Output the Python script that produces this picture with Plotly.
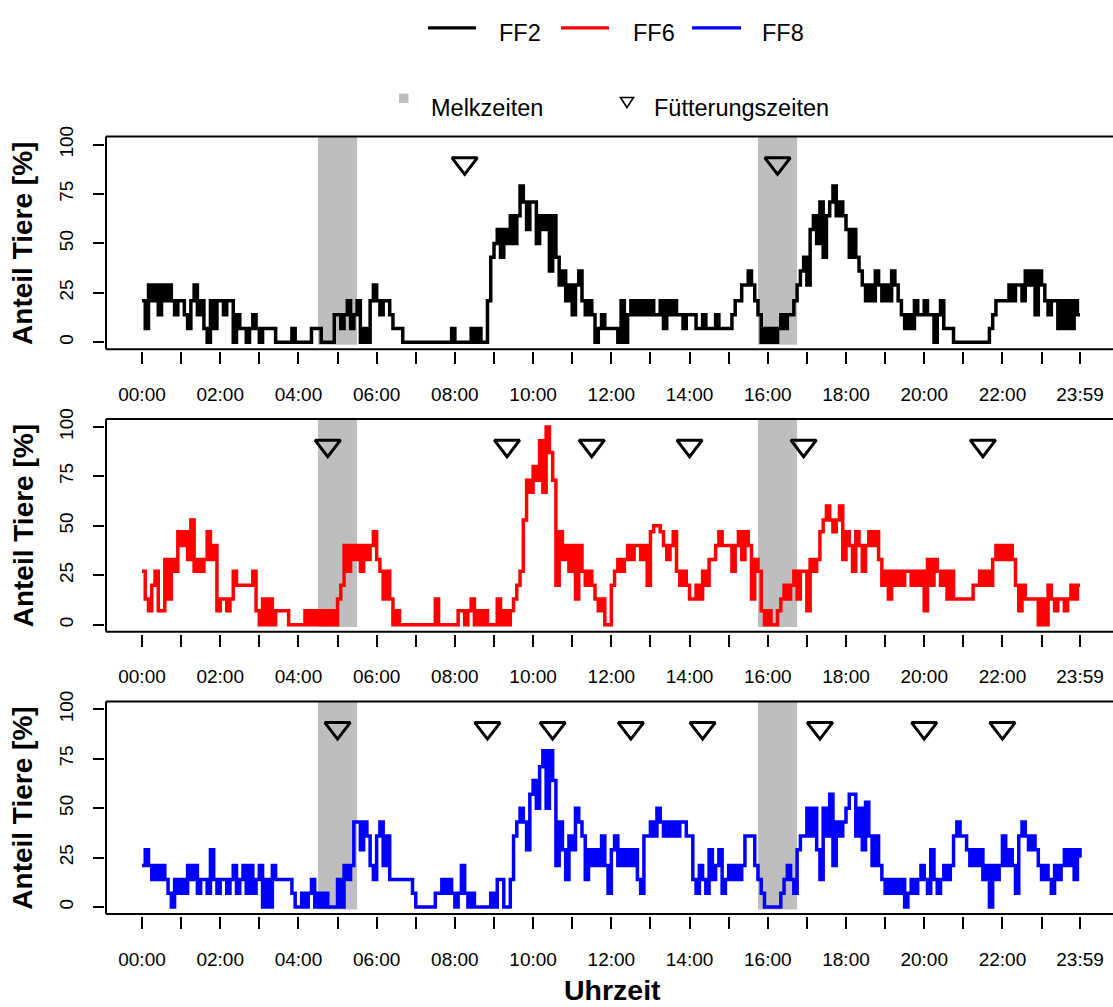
import plotly.graph_objects as go

# ---------------- data (percent of animals, 5-minute steps from 00:00) ----------------
minutes = list(range(0, 1440, 5)) + [1439]

ff2 = [
    21, 7, 29, 21, 29, 14, 29, 21, 29, 21, 14, 21,
    21, 14, 7, 21, 29, 14, 21, 7, 0, 21, 7, 21,
    21, 14, 21, 21, 0, 14, 7, 7, 0, 7, 14, 7,
    0, 7, 7, 7, 7, 0, 0, 0, 0, 0, 7, 0,
    0, 0, 0, 0, 7, 7, 7, 0, 0, 0, 0, 14,
    14, 7, 14, 21, 7, 14, 21, 0, 7, 0, 21, 29,
    21, 14, 21, 21, 14, 7, 7, 7, 0, 0, 0, 0,
    0, 0, 0, 0, 0, 0, 0, 0, 0, 0, 0, 7,
    0, 0, 0, 0, 0, 7, 0, 7, 0, 0, 21, 43,
    50, 57, 43, 57, 50, 64, 50, 64, 79, 71, 57, 71,
    71, 50, 64, 57, 64, 36, 64, 43, 29, 36, 21, 29,
    14, 29, 36, 21, 14, 21, 14, 0, 7, 14, 7, 7,
    7, 7, 0, 21, 0, 14, 21, 14, 21, 14, 21, 14,
    21, 14, 14, 21, 7, 21, 14, 21, 14, 14, 7, 14,
    14, 14, 7, 7, 14, 7, 7, 7, 14, 7, 7, 7,
    7, 14, 21, 21, 29, 29, 36, 29, 21, 14, 0, 7,
    0, 7, 0, 7, 14, 7, 14, 14, 21, 29, 36, 43,
    29, 57, 64, 50, 71, 43, 64, 71, 79, 64, 71, 64,
    57, 43, 57, 43, 36, 29, 21, 29, 21, 36, 29, 21,
    29, 21, 36, 29, 21, 14, 7, 14, 7, 21, 14, 14,
    21, 14, 14, 0, 14, 21, 7, 7, 7, 0, 0, 0,
    0, 0, 0, 0, 0, 0, 0, 0, 7, 14, 21, 21,
    21, 21, 29, 21, 29, 29, 21, 36, 29, 36, 14, 36,
    29, 21, 14, 21, 21, 7, 21, 7, 21, 7, 21, 14,
    14,
]

ff6 = [
    27, 13, 7, 20, 27, 7, 7, 33, 13, 33, 27, 47,
    40, 47, 33, 53, 27, 33, 27, 33, 47, 33, 40, 7,
    13, 13, 7, 13, 27, 20, 20, 20, 20, 20, 27, 7,
    0, 13, 0, 13, 0, 7, 7, 7, 7, 0, 0, 0,
    0, 0, 7, 0, 7, 0, 7, 0, 7, 0, 7, 0,
    13, 20, 40, 27, 40, 33, 40, 27, 40, 33, 40, 47,
    33, 27, 13, 27, 13, 0, 7, 0, 0, 0, 0, 0,
    0, 0, 0, 0, 0, 0, 13, 0, 0, 0, 0, 0,
    0, 7, 7, 0, 7, 13, 0, 7, 0, 7, 0, 0,
    0, 13, 0, 7, 0, 7, 13, 20, 27, 53, 73, 67,
    80, 73, 93, 67, 100, 87, 73, 20, 47, 33, 40, 27,
    40, 13, 40, 27, 20, 27, 20, 13, 7, 13, 0, 0,
    20, 27, 33, 27, 33, 40, 33, 40, 40, 33, 40, 20,
    47, 50, 50, 47, 40, 33, 40, 47, 27, 20, 27, 20,
    13, 13, 20, 13, 27, 20, 33, 33, 40, 47, 40, 40,
    40, 27, 40, 47, 33, 47, 40, 13, 33, 27, 7, 0,
    7, 0, 0, 7, 13, 20, 13, 20, 27, 13, 27, 27,
    7, 33, 27, 33, 47, 53, 60, 53, 47, 53, 60, 33,
    47, 40, 27, 47, 40, 27, 40, 47, 40, 47, 33, 20,
    27, 13, 27, 20, 27, 20, 27, 27, 20, 27, 20, 27,
    7, 33, 20, 33, 27, 20, 27, 13, 27, 13, 13, 13,
    13, 13, 13, 20, 20, 27, 20, 27, 20, 33, 40, 33,
    40, 33, 40, 33, 20, 7, 20, 13, 13, 13, 13, 0,
    13, 0, 20, 13, 7, 13, 13, 7, 13, 20, 13, 20,
    20,
]

ff8 = [
    21, 29, 21, 14, 21, 14, 21, 14, 7, 0, 14, 7,
    14, 7, 21, 14, 21, 7, 14, 14, 7, 29, 14, 7,
    14, 14, 7, 14, 21, 7, 14, 21, 7, 21, 7, 14,
    21, 0, 14, 0, 21, 14, 14, 14, 14, 14, 7, 0,
    0, 7, 0, 7, 14, 0, 7, 0, 7, 0, 0, 0,
    14, 0, 21, 14, 21, 43, 43, 29, 43, 36, 21, 14,
    36, 43, 21, 36, 14, 14, 14, 14, 14, 14, 14, 7,
    0, 0, 0, 0, 0, 0, 7, 7, 14, 7, 14, 7,
    0, 7, 21, 7, 0, 7, 0, 0, 0, 0, 0, 7,
    0, 14, 14, 0, 0, 14, 36, 43, 50, 43, 29, 57,
    64, 50, 71, 79, 50, 79, 64, 21, 43, 29, 14, 36,
    29, 50, 43, 36, 14, 29, 21, 29, 21, 36, 21, 7,
    29, 36, 21, 29, 21, 29, 21, 29, 14, 7, 36, 36,
    43, 36, 50, 43, 36, 43, 36, 43, 36, 43, 43, 36,
    36, 14, 7, 21, 14, 7, 29, 14, 21, 29, 7, 14,
    21, 14, 21, 14, 21, 36, 36, 36, 21, 14, 7, 0,
    0, 0, 0, 0, 7, 14, 21, 14, 7, 29, 36, 36,
    50, 36, 50, 29, 14, 50, 36, 57, 21, 43, 36, 43,
    50, 57, 57, 36, 50, 29, 53, 36, 21, 36, 21, 14,
    7, 14, 7, 14, 7, 14, 0, 7, 14, 7, 14, 21,
    14, 7, 29, 14, 7, 14, 21, 14, 21, 36, 43, 36,
    36, 29, 21, 29, 21, 29, 14, 21, 0, 21, 14, 21,
    36, 21, 29, 21, 7, 36, 43, 36, 29, 36, 29, 21,
    14, 21, 14, 7, 21, 14, 21, 29, 21, 29, 14, 29,
    25,
]

series_names = ["FF2", "FF6", "FF8"]
series_colors = ["#000000", "#FF0000", "#0000FF"]

# feeding times (minutes after midnight) per barn
feed_ff2 = [495, 975]
feed_ff6 = [285, 560, 690, 840, 1015, 1290]
feed_ff8 = [300, 530, 630, 750, 860, 1040, 1200, 1320]

# milking times (start, end) in minutes
milk_start = [270, 945]
milk_end = [330, 1005]

# x tick positions / labels
tick_vals = list(range(0, 1440, 60)) + [1439]
tick_text = ["00:00", "", "02:00", "", "04:00", "", "06:00", "", "08:00", "", "10:00", "",
             "12:00", "", "14:00", "", "16:00", "", "18:00", "", "20:00", "", "22:00", "", "23:59"]

# ---------------- layout helpers ----------------
W, H = 1113, 1007
FONT = "Liberation Sans, Arial, Helvetica, sans-serif"


def px(x):
    return x / W


def py(y):
    return 1 - y / H


panel_tops = [127, 412.5, 698]
panel_h = 215
box_left = 106

fig = go.Figure()
series = [ff2, ff6, ff8]
feeds = [feed_ff2, feed_ff6, feed_ff8]
shapes = []
annotations = []

for i in range(3):
    n = i + 1
    xa = "x" if n == 1 else f"x{n}"
    ya = "y" if n == 1 else f"y{n}"
    fig.add_trace(go.Scatter(
        x=minutes, y=series[i], mode="lines",
        line=dict(color=series_colors[i], width=3.5, shape="hv"),
        name=series_names[i], showlegend=False, xaxis=xa, yaxis=ya, hoverinfo="skip"))
    fig.add_trace(go.Scatter(
        x=feeds[i], y=[90.5] * len(feeds[i]), mode="markers",
        marker=dict(symbol="triangle-down-open", size=22, color="black",
                    line=dict(width=3, color="black")),
        showlegend=False, xaxis=xa, yaxis=ya, hoverinfo="skip"))

    top = panel_tops[i]
    bot = top + panel_h
    xkey = "xaxis" if n == 1 else f"xaxis{n}"
    ykey = "yaxis" if n == 1 else f"yaxis{n}"
    fig.update_layout(**{
        xkey: dict(domain=[px(box_left), 1.0], range=[-55.2, 1489.6], anchor="free",
                   position=py(bot + 2), showline=False, showgrid=False, zeroline=False,
                   tickmode="array", tickvals=tick_vals, ticktext=tick_text,
                   ticks="outside", ticklen=12, tickwidth=1.6, tickcolor="black",
                   tickfont=dict(family=FONT, size=19, color="black"), ticklabelstandoff=14),
        ykey: dict(domain=[py(bot), py(top)], range=[-3.5, 104], anchor="free",
                   position=px(box_left - 2.5), showline=False, showgrid=False, zeroline=False,
                   tickmode="array", tickvals=[0, 25, 50, 75, 100],
                   ticks="outside", ticklen=11, tickwidth=1.6, tickcolor="black", tickangle=-90,
                   tickfont=dict(family=FONT, size=19, color="black"), ticklabelstandoff=12),
    })
    for s, e in zip(milk_start, milk_end):
        shapes.append(dict(type="rect", xref=xa, yref=ya, x0=s, x1=e, y0=-1.2, y1=104,
                           fillcolor="#BEBEBE", line=dict(width=0), layer="below"))
    # open box: left, top, bottom (right edge lies outside the picture)
    for (x0, y0, x1, y1) in [(px(box_left), py(bot), px(box_left), py(top)),
                             (px(box_left), py(top), 1.01, py(top)),
                             (px(box_left), py(bot), 1.01, py(bot))]:
        shapes.append(dict(type="line", xref="paper", yref="paper", x0=x0, y0=y0, x1=x1, y1=y1,
                           line=dict(color="black", width=2), layer="above"))
    annotations.append(dict(text="<b>Anteil Tiere [%]</b>", x=px(23), y=py(top + panel_h / 2 + 1),
                            xref="paper", yref="paper", showarrow=False, textangle=-90,
                            xanchor="center", yanchor="middle",
                            font=dict(family=FONT, size=28, color="black")))

annotations.append(dict(text="<b>Uhrzeit</b>", x=px(612), y=py(990), xref="paper", yref="paper",
                        showarrow=False, xanchor="center", yanchor="middle",
                        font=dict(family=FONT, size=28.5, color="black")))

# ---------------- legends ----------------
leg_lines = [(428, 476, 497), (561, 609, 631), (692, 741, 760)]
for (x0, x1, tx), name, col in zip(leg_lines, series_names, series_colors):
    shapes.append(dict(type="line", xref="paper", yref="paper", x0=px(x0), x1=px(x1),
                       y0=py(17), y1=py(17), line=dict(color=col, width=3.3)))
    annotations.append(dict(text=name, x=px(tx), y=py(22), xref="paper", yref="paper",
                            showarrow=False, xanchor="left", yanchor="middle",
                            font=dict(family=FONT, size=23.5, color="black")))

shapes.append(dict(type="rect", xref="paper", yref="paper", x0=px(399), x1=px(408.5),
                   y0=py(93), y1=py(83.5), fillcolor="#BEBEBE", line=dict(width=0)))
annotations.append(dict(text="Melkzeiten", x=px(429), y=py(98), xref="paper", yref="paper",
                        showarrow=False, xanchor="left", yanchor="middle",
                        font=dict(family=FONT, size=23.5, color="black")))
tri = f"M {px(620.5)},{py(87.5)} L {px(633.5)},{py(87.5)} L {px(627)},{py(97.5)} Z"
shapes.append(dict(type="path", xref="paper", yref="paper", path=tri,
                   line=dict(color="black", width=1.6)))
annotations.append(dict(text="Fütterungszeiten", x=px(652), y=py(98), xref="paper", yref="paper",
                        showarrow=False, xanchor="left", yanchor="middle",
                        font=dict(family=FONT, size=23.5, color="black")))

fig.update_layout(width=W, height=H, margin=dict(l=0, r=0, t=0, b=0),
                  paper_bgcolor="white", plot_bgcolor="white",
                  shapes=shapes, annotations=annotations, showlegend=False,
                  font=dict(family=FONT, color="black"))

fig.write_html(
    "out.html",
    config={"displayModeBar": False},
    post_script=("document.body.style.margin='0';"
                 "document.documentElement.style.overflow='hidden';"),
)
